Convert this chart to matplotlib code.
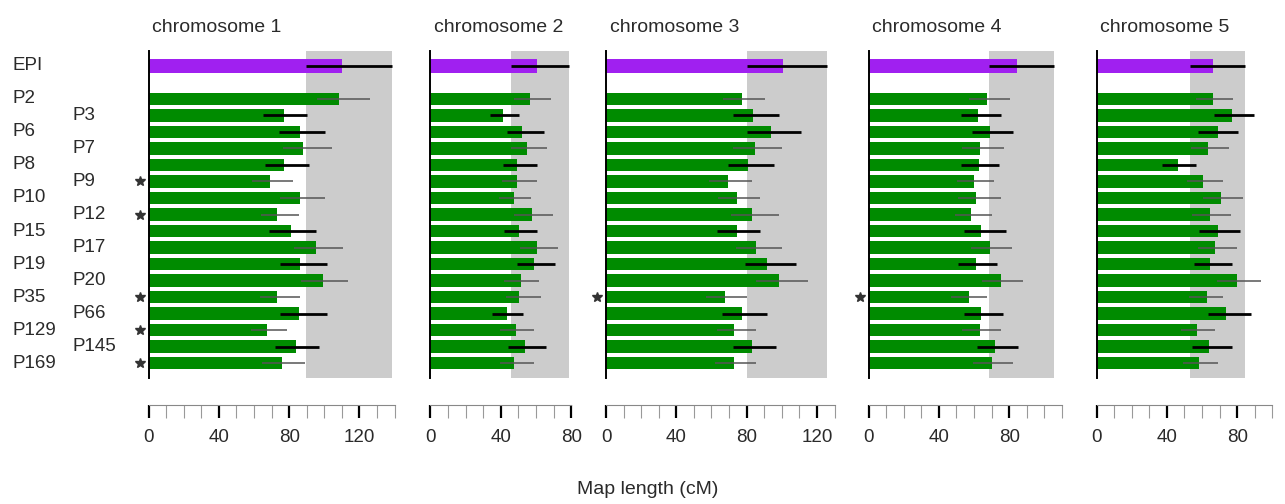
import matplotlib
matplotlib.use("Agg")
import matplotlib.pyplot as plt
from matplotlib.transforms import offset_copy, blended_transform_factory

plt.rcParams['font.family'] = ['Liberation Sans', 'DejaVu Sans']

# populations, top to bottom (EPI is the reference map)
pops = ["EPI", "P2", "P3", "P6", "P7", "P8", "P9", "P10", "P12", "P15",
        "P17", "P19", "P20", "P35", "P66", "P129", "P145", "P169"]
rows = [0] + list(range(2, 19))

# populations drawn with the heavy black interval
thick = ["EPI", "P3", "P6", "P8", "P15", "P19", "P66", "P145"]

# map length (cM) and interval per chromosome
chr1_len = [110.2, 108.5, 77.3, 86.2, 88.1, 77.3, 69.1, 86.2, 72.9, 81.1, 95.3, 86.2, 99.1, 72.9, 85.6, 67.2, 83.9, 76.1]
chr1_lo = [89.6, 95.7, 65.3, 74.4, 76.3, 66.3, 58.7, 74.8, 64.0, 68.7, 82.8, 74.8, 86.7, 63.4, 74.8, 58.3, 72.0, 64.4]
chr1_hi = [138.7, 126.0, 90.3, 100.4, 104.2, 91.3, 82.4, 100.4, 85.8, 95.3, 110.5, 101.4, 113.3, 86.2, 101.4, 79.0, 97.2, 89.0]

chr2_len = [60.6, 56.6, 41.4, 52.0, 54.7, 49.4, 49.4, 47.3, 57.7, 50.5, 60.6, 58.7, 51.5, 50.5, 43.5, 48.6, 53.8, 47.5]
chr2_lo = [45.8, 47.7, 33.8, 43.7, 45.8, 41.1, 40.7, 39.0, 47.3, 41.8, 50.9, 49.0, 41.8, 42.9, 34.8, 39.7, 43.9, 39.7]
chr2_hi = [78.9, 68.5, 50.5, 64.7, 66.3, 60.4, 60.4, 57.3, 69.9, 60.4, 72.7, 70.8, 61.7, 62.7, 52.8, 58.7, 65.9, 58.7]

chr3_len = [100.9, 77.2, 83.8, 93.9, 84.8, 80.6, 69.6, 74.5, 82.9, 74.5, 85.2, 91.8, 98.4, 67.7, 77.2, 72.8, 82.9, 72.8]
chr3_lo = [80.0, 66.4, 72.4, 80.0, 72.1, 69.2, 58.8, 63.9, 70.9, 63.3, 74.0, 79.1, 85.2, 56.9, 65.8, 63.0, 72.4, 62.0]
chr3_hi = [125.9, 90.4, 98.6, 110.9, 99.9, 95.7, 82.9, 87.8, 98.6, 87.8, 99.9, 107.9, 115.1, 80.4, 91.8, 85.2, 96.7, 85.2]

chr4_len = [84.3, 67.2, 62.1, 69.3, 63.6, 63.0, 60.2, 61.2, 58.1, 64.2, 69.1, 60.9, 75.4, 57.3, 64.2, 63.2, 72.0, 70.2]
chr4_lo = [68.5, 57.3, 52.6, 58.7, 53.4, 52.6, 50.2, 51.1, 49.2, 54.3, 58.3, 51.1, 64.4, 46.8, 54.3, 53.4, 61.5, 59.3]
chr4_hi = [105.5, 80.5, 75.5, 82.4, 77.1, 74.2, 71.4, 75.5, 70.4, 78.4, 81.5, 73.3, 88.1, 67.2, 76.5, 75.5, 85.2, 82.4]

chr5_len = [66.4, 66.4, 77.1, 68.9, 63.4, 46.2, 60.4, 70.6, 64.6, 68.9, 67.6, 64.6, 80.1, 62.7, 73.5, 57.3, 64.0, 58.3]
chr5_lo = [53.2, 56.6, 66.8, 57.9, 53.6, 37.5, 51.7, 60.8, 54.5, 58.5, 57.6, 55.5, 68.7, 52.8, 63.6, 48.1, 54.5, 49.4]
chr5_hi = [84.5, 77.5, 89.6, 80.7, 75.2, 56.4, 72.1, 83.2, 76.5, 81.6, 80.1, 77.3, 93.6, 72.1, 87.7, 67.4, 76.9, 68.9]

titles = ["chromosome 1", "chromosome 2", "chromosome 3", "chromosome 4", "chromosome 5"]
axis_max = [140, 80, 130, 110, 100]

# populations marked with a star, per panel
stars = {0: ["P9", "P12", "P35", "P129", "P169"], 2: ["P35"], 3: ["P35"]}

lengths = [chr1_len, chr2_len, chr3_len, chr4_len, chr5_len]
lows = [chr1_lo, chr2_lo, chr3_lo, chr4_lo, chr5_lo]
highs = [chr1_hi, chr2_hi, chr3_hi, chr4_hi, chr5_hi]

# layout in pixels
W, H = 1285, 504
zero_px = [148.5, 430.5, 606, 868.5, 1096.5]
px_per_cm = 1.758
top_px, bottom_px = 51, 378

fig = plt.figure(figsize=(12.85, 5.04), dpi=100)
text_col = "#2a2a2a"
axes = []

for i in range(5):
    width_px = axis_max[i] * px_per_cm
    ax = fig.add_axes([zero_px[i] / W, 1 - bottom_px / H,
                       width_px / W, (bottom_px - top_px) / H])
    axes.append(ax)
    vals, lo, hi = lengths[i], lows[i], highs[i]

    # grey band = EPI interval
    ax.axvspan(lo[0], hi[0], color="#cccccc", lw=0, zorder=0)

    colors = ["#a020f0"] + ["#008b00"] * (len(pops) - 1)
    heights = [0.82] + [0.76] * (len(pops) - 1)
    ax.barh(rows, vals, height=heights, color=colors, zorder=2)

    for r, p, a, b in zip(rows, pops, lo, hi):
        if p in thick:
            ax.plot([a, b], [r, r], color="black", lw=2.0, zorder=3,
                    solid_capstyle="butt", clip_on=False)
        else:
            ax.plot([a, b], [r, r], color="#555555", lw=1.1, zorder=3,
                    solid_capstyle="butt", clip_on=False)

    star_trans = offset_copy(ax.transData, fig=fig, x=-9, y=0, units="dots")
    for p in stars.get(i, []):
        ax.plot([0], [rows[pops.index(p)]], marker="*", ms=7, color="#333333",
                transform=star_trans, clip_on=False)

    ax.set_xlim(0, axis_max[i])
    ax.set_ylim(18.9, -0.9)
    ax.set_yticks([])
    ax.set_xticks(range(0, axis_max[i] + 1, 40))
    ax.set_xticks(range(0, axis_max[i] + 1, 10), minor=True)
    ax.tick_params(axis="x", which="major", direction="out", length=9.5, width=1.6,
                   color="black", labelsize=13.5, pad=8, labelcolor=text_col)
    ax.tick_params(axis="x", which="minor", direction="out", length=9.5, width=0.8,
                   color="#999999")

    for s in ["top", "right"]:
        ax.spines[s].set_visible(False)
    ax.spines["left"].set_linewidth(1.4)
    ax.spines["left"].set_color("black")
    ax.spines["bottom"].set_position(("outward", 19.4))
    ax.spines["bottom"].set_bounds(0, axis_max[i])
    ax.spines["bottom"].set_color("#888888")
    ax.spines["bottom"].set_linewidth(0.8)

    ax.set_title(titles[i], loc="left", pad=14, fontsize=14, color=text_col,
                 x=4 / width_px)

# population names in two staggered columns
lab_trans = blended_transform_factory(fig.transFigure, axes[0].transData)
for k, (r, p) in enumerate(zip(rows, pops)):
    x = 13 if (k == 0 or (k - 1) % 2 == 0) else 73
    fig.text(x / W, r, p, transform=lab_trans, ha="left", va="center",
             fontsize=13.5, color=text_col)

fig.text(648 / W, 1 - 490 / H, "Map length (cM)", ha="center", va="center",
         fontsize=14, color=text_col)

fig.savefig("out.png", dpi=100)
